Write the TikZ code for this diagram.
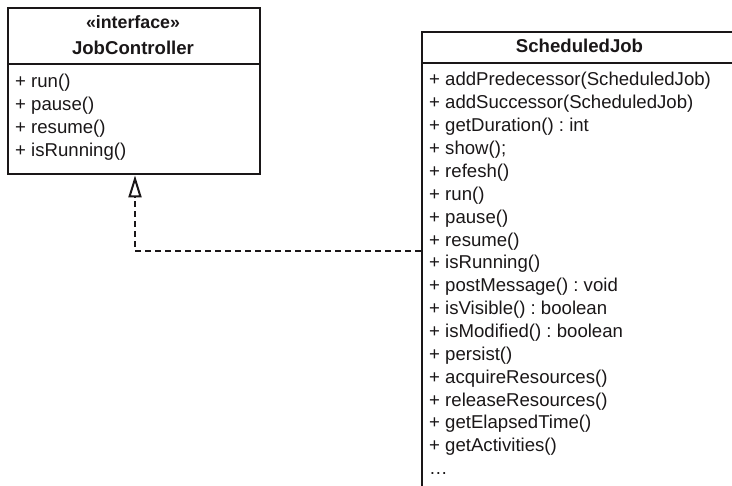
\documentclass[tikz,border=0pt]{standalone}
\usepackage{fontspec}
\setmainfont{Liberation Sans}
\usetikzlibrary{arrows.meta}
\definecolor{ink}{HTML}{1A1718}
\frenchspacing
\tikzset{
  classbox/.style={draw=ink, line width=2.4pt, anchor=north west, inner sep=0pt},
  divider/.style={draw=ink, line width=1.2pt},
  member/.style={anchor=base west, inner sep=0pt, text=ink, font=\fontsize{18.6}{22}\selectfont},
  header/.style={anchor=base, inner sep=0pt, text=ink, font=\fontsize{18.6}{22}\selectfont\bfseries},
  realize/.style={draw=ink, line width=2.2pt, dash pattern=on 6pt off 4pt,
    -{Triangle[open, length=22pt, width=13pt, line width=2pt]}},
}
\begin{document}
\begin{tikzpicture}[x=1pt, y=-1pt]
\useasboundingbox (0,0) rectangle (732,486);
% JobController
\node[classbox, minimum width=252pt, minimum height=166pt] (jc) at (7,7) {};
\draw[divider] (7,64) -- (259,64);
\node[header, font=\fontsize{17.8}{22}\selectfont\bfseries] (jcst) at (133,29) {«interface»};
\node[header] (jcname) at (133,55) {JobController};
\foreach \t [count=\i from 0] in {{+ run()},{+ pause()},{+ resume()},{+ isRunning()}}
  \node[member] (jcm\i) at (15,88+23*\i) {\t};
% ScheduledJob
\node[classbox, minimum width=320pt, minimum height=480pt] (sj) at (421,31) {};
\draw[divider] (421,63) -- (741,63);
\node[header] (sjname) at (579.5,52.5) {ScheduledJob};
\foreach \t [count=\i from 0] in {
  {+ addPredecessor(ScheduledJob)},
  {+ addSuccessor(ScheduledJob)},
  {+ getDuration() : int},
  {+ show();},
  {+ refesh()},
  {+ run()},
  {+ pause()},
  {+ resume()},
  {+ isRunning()},
  {+ postMessage() : void},
  {+ isVisible() : boolean},
  {+ isModified() : boolean},
  {+ persist()},
  {+ acquireResources()},
  {+ releaseResources()},
  {+ getElapsedTime()},
  {+ getActivities()},
  {…}}
  \node[member] (sjm\i) at (429,86+22.86*\i) {\t};
% realization
\coordinate (bend) at (135,251);
\draw[realize] (sj.west |- bend) -- (bend) -- (bend |- jc.south);
\end{tikzpicture}
\end{document}
